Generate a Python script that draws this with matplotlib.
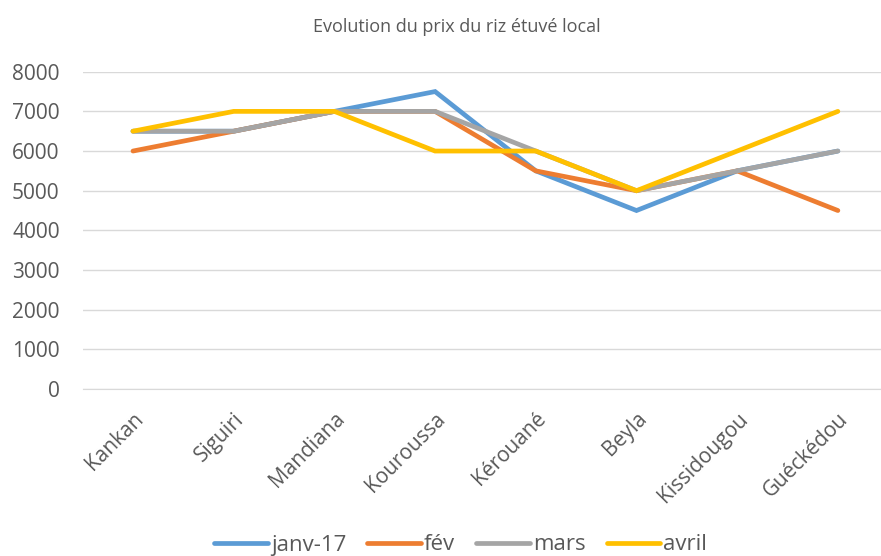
import matplotlib.pyplot as plt
import numpy as np

# Data
villes = ['Kankan', 'Siguiri', 'Mandiana', 'Kouroussa', 'Kérouané',
          'Beyla', 'Kissidougou', 'Guéckédou']
janv_17 = [6500, 6500, 7000, 7500, 5500, 4500, 5500, 6000]
fev = [6000, 6500, 7000, 7000, 5500, 5000, 5500, 4500]
mars = [6500, 6500, 7000, 7000, 6000, 5000, 5500, 6000]
avril = [6500, 7000, 7000, 6000, 6000, 5000, 6000, 7000]

series = [('janv-17', janv_17, '#5B9BD5'),
          ('fév', fev, '#ED7D31'),
          ('mars', mars, '#A5A5A5'),
          ('avril', avril, '#FFC000')]

plt.rcParams['font.family'] = ['Open Sans', 'DejaVu Sans']

fig = plt.figure(figsize=(8.81, 5.56), dpi=100)
ax = fig.add_axes([0.0938, 0.3004, 0.9144, 0.5706])

x = np.arange(len(villes))
for name, vals, col in series:
    ax.plot(x, vals, color=col, linewidth=3.4, label=name,
            solid_capstyle='round', solid_joinstyle='miter')

ax.set_xlim(-0.5, len(villes) - 0.5)
ax.set_ylim(0, 8000)
ax.set_yticks(np.arange(0, 8001, 1000))
ax.set_xticks(x)
ax.set_xticklabels(villes, rotation=45, ha='right', rotation_mode='anchor')

ax.grid(axis='y', color='#D9D9D9', linewidth=1.0)
ax.set_axisbelow(True)
for side in ['top', 'right', 'left']:
    ax.spines[side].set_visible(False)
ax.spines['bottom'].set_color('#D9D9D9')
ax.tick_params(axis='both', length=0, labelsize=15, colors='#595959')
ax.tick_params(axis='y', pad=16.5)
ax.tick_params(axis='x', pad=14)

fig.text(0.518, 0.951, 'Evolution du prix du riz étuvé local',
         ha='center', va='center', fontsize=13, color='#595959')

fig.legend(loc='center', bbox_to_anchor=(0.523, 1 - 545 / 556), ncol=4,
           frameon=False, fontsize=16, handlelength=2.4,
           handletextpad=0.15, columnspacing=0.95, labelcolor='#595959')

fig.savefig('out.png', dpi=100)
